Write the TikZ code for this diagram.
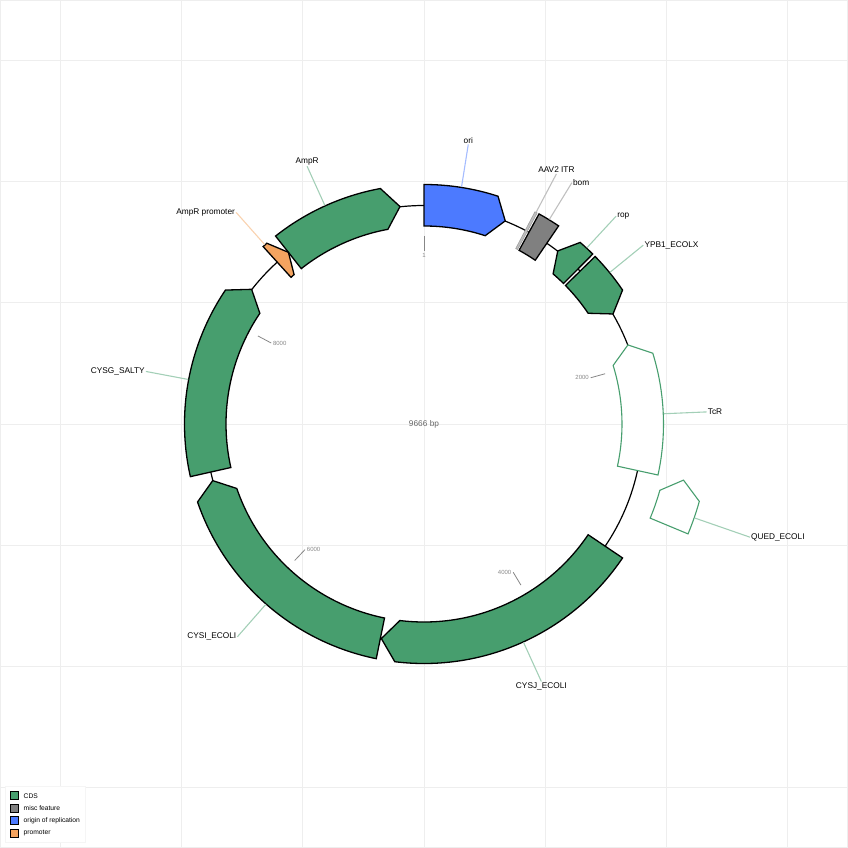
\documentclass[tikz,border=0pt]{standalone}
\usepackage{fontspec}
\setmainfont{Liberation Sans}
\definecolor{cdsgreen}{RGB}{71,158,110}
\definecolor{oriblue}{RGB}{76,122,255}
\definecolor{miscgrey}{RGB}{128,128,128}
\definecolor{promorange}{RGB}{244,164,96}
\definecolor{gridgrey}{RGB}{238,238,238}
\definecolor{tickgrey}{RGB}{135,135,135}
% arrow along the ring: tail angle, shoulder angle, tip angle, inner and outer radius
\newcommand{\plasfeat}[6][]{%
  \draw[#1] (#2:#6) arc[start angle=#2, end angle=#3, radius=#6]
    -- (#4:{(#5+#6)/2}) -- (#3:#5) arc[start angle=#3, end angle=#2, radius=#5] -- cycle;}
\begin{document}
\begin{tikzpicture}[x=1pt, y=1pt,
  feat/.style={draw=black, line width=1.3pt},
  cds/.style={feat, fill=cdsgreen},
  cdsopen/.style={draw=cdsgreen, fill=white, line width=1.1pt},
  lead/.style={line width=1.1pt},
  lbl/.style={font=\fontsize{8.3}{10}\selectfont, inner sep=1pt},
  tickmark/.style={draw=tickgrey, line width=0.8pt},
  ticklbl/.style={font=\fontsize{6}{7}\selectfont, text=tickgrey, inner sep=1.5pt},
  legsq/.style={draw=black, line width=1pt, minimum size=8pt, inner sep=0pt},
  legtxt/.style={font=\fontsize{6.7}{8}\selectfont, inner sep=1pt, anchor=west}]
\useasboundingbox (-424,-424) rectangle (424,424);
% panel grid
\foreach \g in {-363.3,-242.2,-121.1,0,121.1,242.2,363.3} {
  \draw[gridgrey, line width=0.8pt] (\g,-424) -- (\g,424);
  \draw[gridgrey, line width=0.8pt] (-424,\g) -- (424,\g);
}
\draw[gridgrey, line width=1.6pt] (-424,-424) rectangle (424,424);

% backbone
\draw[line width=1.2pt] (0,0) circle[radius=218.5];
\node[font=\fontsize{8.3}{10}\selectfont, text=black!60] (size) at (0,0) {9666 bp};

% ticks
\draw[tickmark] (90:188) -- (90:173) node[ticklbl, anchor=north] (t1) {1};
\draw[tickmark] (15.51:188) -- (15.51:173) node[ticklbl, anchor=east] (t2000) {2000};
\draw[tickmark] (-58.97:188) -- (-58.97:173) node[ticklbl, anchor=east] (t4000) {4000};
\draw[tickmark] (226.55:188) -- (226.55:173) node[ticklbl, anchor=west] (t6000) {6000};
\draw[tickmark] (152.07:188) -- (152.07:173) node[ticklbl, anchor=west] (t8000) {8000};

% features
\plasfeat[cds]{128.3}{100.5}{96.3}{198}{239.5}
\plasfeat[feat, fill=promorange]{132.2}{131}{128.3}{198}{239.5}
\plasfeat[feat, fill=oriblue]{90}{72}{68.2}{198}{239.5}
\plasfeat[draw=gray!75, fill=gray!50, line width=0.6pt]{62.4}{61.8}{61.8}{198}{239.5}
\plasfeat[feat, fill=miscgrey]{61.3}{55.8}{55.8}{198}{239.5}
\plasfeat[cds]{45.2}{49.3}{52.3}{198}{239.5}
\plasfeat[cds]{44.4}{34}{30.2}{198}{239.5}
\plasfeat[cdsopen]{-12.3}{17.2}{21.2}{198}{239.5}
\plasfeat[cdsopen]{-22.6}{-15.7}{-12.2}{245}{286}
\plasfeat[cds]{326}{263}{258.75}{198}{239.5}
\plasfeat[cds]{258.5}{199}{195}{198}{239.5}
\plasfeat[cds]{192.7}{146}{142}{198}{239.5}

% labels
\coordinate (ori-a) at (81:240);
\node[lbl, anchor=south] (ori) at (81:283) {ori};
\draw[lead, oriblue!50] (ori-a) -- (ori.south);
\coordinate (itr-a) at (62.1:240);
\node[lbl, anchor=south] (itr) at (62.1:283) {AAV2 ITR};
\draw[lead, miscgrey!50] (itr-a) -- (itr.south);
\coordinate (bom-a) at (58.5:240);
\node[lbl, anchor=west] (bom) at (58.5:283) {bom};
\draw[lead, miscgrey!50] (bom-a) -- (bom.west);
\coordinate (rop-a) at (47.25:240);
\node[lbl, anchor=west] (rop) at (47.25:283) {rop};
\draw[lead, cdsgreen!50] (rop-a) -- (rop.west);
\coordinate (ypb-a) at (39.2:240);
\node[lbl, anchor=west] (ypb) at (39.2:283) {YPB1\_ECOLX};
\draw[lead, cdsgreen!50] (ypb-a) -- (ypb.west);
\coordinate (tcr-a) at (2.45:240);
\node[lbl, anchor=west] (tcr) at (2.45:283) {TcR};
\draw[lead, cdsgreen!50] (tcr-a) -- (tcr.west);
\coordinate (qued-a) at (-19.15:286.5);
\node[lbl, anchor=west] (qued) at (-19.15:345) {QUED\_ECOLI};
\draw[lead, cdsgreen!50] (qued-a) -- (qued.west);
\coordinate (cysj-a) at (294.5:240);
\node[lbl, anchor=north] (cysj) at (294.5:283) {CYSJ\_ECOLI};
\draw[lead, cdsgreen!50] (cysj-a) -- (cysj.north);
\coordinate (cysi-a) at (228.75:240);
\node[lbl, anchor=east] (cysi) at (228.75:283) {CYSI\_ECOLI};
\draw[lead, cdsgreen!50] (cysi-a) -- (cysi.east);
\coordinate (cysg-a) at (169.3:240);
\node[lbl, anchor=east] (cysg) at (169.3:283) {CYSG\_SALTY};
\draw[lead, cdsgreen!50] (cysg-a) -- (cysg.east);
\coordinate (prom-a) at (131.6:240);
\node[lbl, anchor=east] (prom) at (131.6:283) {AmpR promoter};
\draw[lead, promorange!50] (prom-a) -- (prom.east);
\coordinate (ampr-a) at (114.4:240);
\node[lbl, anchor=south] (ampr) at (114.4:283) {AmpR};
\draw[lead, cdsgreen!50] (ampr-a) -- (ampr.south);

% legend
\draw[draw=black!4, fill=white] (-418.5,-362) rectangle (-339,-418);
\node[legsq, fill=cdsgreen] (k-cds) at (-409,-371.7) {};
\node[legtxt] (k-cds-t) at (-401.5,-371.7) {CDS};
\node[legsq, fill=miscgrey] (k-misc) at (-409,-384.2) {};
\node[legtxt] (k-misc-t) at (-401.5,-384.2) {misc feature};
\node[legsq, fill=oriblue] (k-ori) at (-409,-396.7) {};
\node[legtxt] (k-ori-t) at (-401.5,-396.7) {origin of replication};
\node[legsq, fill=promorange] (k-prom) at (-409,-409.2) {};
\node[legtxt] (k-prom-t) at (-401.5,-409.2) {promoter};
\end{tikzpicture}
\end{document}
